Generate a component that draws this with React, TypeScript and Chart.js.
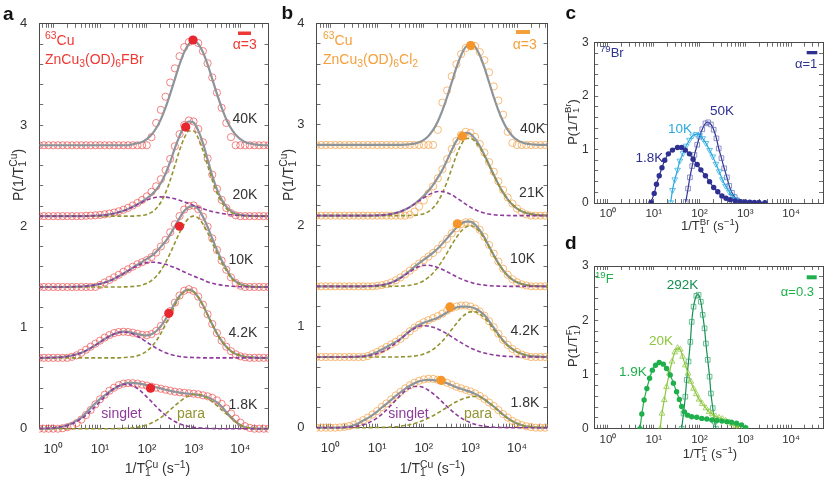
import { useEffect, useRef } from "react";
import { Chart, registerables } from "chart.js";
import type { ChartConfiguration, Plugin } from "chart.js";

Chart.register(...registerables);

const W = 831;
const H = 485;
const FONT = "'Liberation Sans', Arial, Helvetica, sans-serif";
const AXIS = "#4a4a4a";
const TEXT = "#333333";
const FIT = "#8d949a";
const PURPLE = "#8e3b9c";
const OLIVE = "#939330";
const RED = "#ee3a35";
const ORANGE = "#f5a03c";
const NAVY = "#2e3192";
const CYAN = "#29a9e0";
const GREEN = "#1fb04b";
const LIME = "#8cc63f";
const DKGREEN = "#138f52";

// x axis decades
const decadeRates = [1, 10, 100, 1000, 10000];
const decadeLabels = ["10\u2070", "10\u00b9", "10\u00b2", "10\u00b3", "10\u2074"];

// ---- panels a, b: 63Cu spectra, log10(1/T1) grid, stacked by offset ----
const cuOffsets = [0, 0.7, 1.4, 2.1, 2.8];
const fbrTemps = ["1.8K", "4.2K", "10K", "20K", "40K"];
const clTemps = ["1.8K", "4.2K", "10K", "21K", "40K"];

const cuLogRate = [
  -0.3, -0.2, -0.1, 0, 0.1, 0.2, 0.3, 0.4, 0.5, 0.6,
  0.7, 0.8, 0.9, 1, 1.1, 1.2, 1.3, 1.4, 1.5, 1.6,
  1.7, 1.8, 1.9, 2, 2.1, 2.2, 2.3, 2.4, 2.5, 2.6,
  2.7, 2.8, 2.9, 3, 3.1, 3.2, 3.3, 3.4, 3.5, 3.6,
  3.7, 3.8, 3.9, 4, 4.1, 4.2, 4.3, 4.4, 4.5, 4.6,
  4.7,
];

// ZnCu3(OD)6FBr
const fbrData18 = [
  0, 0, 0, 0, 0, .005, .015, .03, .055, .09,
  .135, .185, .24, .29, .335, .375, .405, .43, .445, .45,
  .45, .445, .435, .425, .415, .405, .395, .385, .375, .365,
  .36, .355, .35, .345, .34, .33, .32, .305, .28, .245,
  .2, .15, .1, .06, .025, .008, 0, 0, 0, 0,
  0,
];
const fbrFit18 = [
  0, 0, 0, .005, .012, .022, .037, .055, .08, .11,
  .155, .205, .25, .295, .33, .365, .395, .42, .44, .452,
  .452, .448, .44, .43, .42, .41, .398, .385, .375, .365,
  .357, .35, .345, .34, .335, .325, .31, .29, .26, .22,
  .165, .115, .07, .036, .015, .006, .002, 0, 0, 0,
  0,
];
const fbrSinglet18 = [
  .002, .003, .005, .008, .014, .022, .033, .049, .071, .099,
  .133, .174, .219, .267, .315, .359, .397, .424, .438, .438,
  .424, .397, .359, .315, .267, .219, .174, .133, .099, .071,
  .049, .033, .022, .014, .008, .005, .003, .002, 0, 0,
  0, 0, 0, 0, 0, 0, 0, 0, 0, 0,
  0,
];
const fbrPara18 = [
  0, 0, 0, 0, 0, 0, 0, 0, 0, 0,
  0, 0, 0, 0, 0, 0, 0, .001, .003, .005,
  .009, .015, .024, .037, .056, .08, .11, .146, .186, .227,
  .266, .3, .325, .338, .338, .325, .3, .266, .227, .186,
  .146, .105, .068, .036, .016, .006, .002, 0, 0, 0,
  0,
];
const fbrData42 = [
  0, 0, 0, 0, 0, 0, 0, .01, .025, .05,
  .08, .11, .14, .17, .2, .225, .245, .255, .258, .255,
  .248, .238, .228, .224, .235, .265, .315, .385, .462, .545,
  .615, .663, .678, .66, .605, .525, .43, .335, .245, .17,
  .11, .065, .035, .015, .005, 0, 0, 0, 0, 0,
  0,
];
const fbrFit42 = [
  0, 0, .002, .003, .005, .009, .014, .023, .035, .051,
  .071, .096, .125, .155, .186, .214, .236, .251, .259, .257,
  .247, .236, .225, .222, .234, .263, .312, .381, .46, .542,
  .612, .66, .675, .654, .6, .519, .425, .33, .241, .167,
  .109, .067, .039, .022, .011, .006, .003, 0, 0, 0,
  0,
];
const fbrSinglet42 = [
  0, 0, .002, .003, .005, .009, .014, .023, .035, .051,
  .071, .096, .125, .155, .186, .214, .236, .251, .256, .251,
  .236, .214, .186, .155, .125, .096, .071, .051, .035, .023,
  .014, .009, .005, .003, .002, 0, 0, 0, 0, 0,
  0, 0, 0, 0, 0, 0, 0, 0, 0, 0,
  0,
];
const fbrPara42 = [
  0, 0, 0, 0, 0, 0, 0, 0, 0, 0,
  0, 0, 0, 0, 0, 0, 0, 0, .003, .006,
  .011, .022, .039, .067, .109, .167, .241, .33, .425, .519,
  .598, .651, .67, .651, .598, .519, .425, .33, .241, .167,
  .109, .067, .039, .022, .011, .006, .003, 0, 0, 0,
  0,
];
const fbrData10 = [
  0, 0, 0, 0, 0, 0, 0, 0, 0, 0,
  0, 0, 0, .02, .045, .07, .095, .12, .15, .175,
  .2, .225, .245, .265, .295, .34, .4, .465, .54, .62,
  .7, .765, .8, .805, .77, .695, .595, .48, .365, .26,
  .17, .095, .04, .012, 0, 0, 0, 0, 0, 0,
  0,
];
const fbrFit10 = [
  0, 0, 0, 0, 0, 0, 0, .002, .003, .005,
  .008, .013, .021, .031, .044, .061, .082, .106, .133, .161,
  .191, .22, .248, .277, .308, .347, .398, .45, .52, .6,
  .68, .75, .79, .8, .77, .693, .592, .479, .366, .265,
  .181, .1, .055, .028, .012, .005, .002, 0, 0, 0,
  0,
];
const fbrSinglet10 = [
  0, 0, 0, 0, 0, 0, 0, .002, .003, .005,
  .008, .013, .021, .031, .044, .061, .082, .106, .132, .159,
  .186, .21, .229, .241, .245, .243, .235, .224, .208, .19,
  .17, .149, .127, .107, .088, .071, .05, .037, .026, .018,
  .012, .008, .005, .003, .002, .001, 0, 0, 0, 0,
  0,
];
const fbrPara10 = [
  0, 0, 0, 0, 0, 0, 0, 0, 0, 0,
  0, 0, 0, 0, 0, 0, 0, 0, .001, .002,
  .005, .01, .019, .036, .063, .104, .163, .24, .333, .435,
  .536, .622, .68, .7, .68, .622, .536, .435, .333, .24,
  .163, .09, .05, .025, .011, .005, .002, 0, 0, 0,
  0,
];
const fbrData20 = [
  0, 0, 0, 0, 0, 0, 0, 0, 0, 0,
  .003, .005, .008, .012, .018, .025, .035, .048, .063, .082,
  .105, .13, .16, .195, .24, .295, .365, .455, .565, .69,
  .81, .9, .945, .935, .86, .73, .57, .41, .27, .16,
  .08, .03, .008, 0, 0, 0, 0, 0, 0, 0,
  0,
];
const fbrFit20 = [
  0, 0, 0, 0, 0, 0, 0, 0, 0, 0,
  0, .002, .004, .006, .011, .017, .026, .038, .053, .071,
  .093, .118, .145, .176, .212, .261, .327, .418, .535, .672,
  .79, .89, .935, .925, .845, .722, .559, .399, .265, .163,
  .094, .05, .026, .013, .007, .003, .002, 0, 0, 0,
  0,
];
const fbrSinglet20 = [
  0, 0, 0, 0, 0, 0, 0, 0, 0, 0,
  0, .002, .004, .006, .011, .017, .026, .038, .053, .071,
  .093, .115, .138, .159, .175, .186, .19, .188, .181, .171,
  .157, .141, .124, .106, .089, .073, .058, .045, .035, .026,
  .019, .013, .009, .006, .004, .003, .002, 0, 0, 0,
  0,
];
const fbrPara20 = [
  0, 0, 0, 0, 0, 0, 0, 0, 0, 0,
  0, 0, 0, 0, 0, 0, 0, 0, 0, 0,
  0, .003, .007, .017, .037, .075, .137, .23, .354, .501,
  .649, .771, .841, .841, .771, .649, .501, .354, .23, .137,
  .075, .037, .017, .007, .003, 0, 0, 0, 0, 0,
  0,
];
const fbrData40 = [
  0, 0, 0, 0, 0, 0, 0, 0, 0, 0,
  0, 0, 0, 0, 0, 0, 0, 0, 0, 0,
  0, 0, 0, 0, .08, .22, .35, .48, .62, .76,
  .88, .97, 1.02, 1.04, 1.01, .93, .81, .67, .52, .37,
  .22, .08, 0, 0, 0, 0, 0, 0, 0, 0,
  0,
];
const fbrFit40 = [
  0, 0, 0, 0, 0, 0, 0, 0, 0, 0,
  0, 0, 0, 0, 0, 0, 0, 0, 0, 0,
  .01, .02, .033, .061, .104, .168, .256, .371, .507, .654,
  .798, .92, 1.001, 1.03, 1.001, .92, .798, .654, .507, .371,
  .256, .168, .104, .061, .033, .017, .009, .004, 0, 0,
  0,
];
const fbrMeanRate = [120, 295, 500, 680, 970];
const fbrMeanP = [0.4, 0.44, 0.6, 0.88, 1.04];

// ZnCu3(OD)6Cl2
const clData18 = [
  0, 0, 0, 0, 0, .003, .008, .016, .03, .05,
  .075, .1, .13, .165, .205, .24, .28, .32, .355, .39,
  .42, .445, .465, .478, .485, .483, .475, .462, .445, .425,
  .405, .39, .375, .36, .34, .315, .285, .25, .215, .175,
  .135, .1, .068, .045, .027, .014, .006, 0, 0, 0,
  0,
];
const clFit18 = [
  0, 0, 0, 0, 0, 0, .005, .012, .025, .045,
  .07, .095, .125, .16, .2, .235, .275, .315, .35, .385,
  .415, .44, .46, .47, .474, .472, .465, .455, .44, .42,
  .4, .385, .37, .355, .335, .31, .28, .245, .21, .17,
  .13, .095, .065, .042, .025, .013, .006, .002, 0, 0,
  0,
];
const clSinglet18 = [
  0, 0, 0, 0, 0, .002, .003, .006, .011, .018,
  .029, .045, .067, .097, .133, .176, .224, .273, .321, .362,
  .392, .408, .408, .396, .371, .337, .297, .253, .209, .167,
  .13, .097, .071, .05, .034, .022, .014, .009, .005, .003,
  .002, .001, 0, 0, 0, 0, 0, 0, 0, 0,
  0,
];
const clPara18 = [
  0, 0, 0, 0, 0, 0, 0, 0, 0, 0,
  0, 0, .001, .002, .003, .004, .007, .01, .015, .022,
  .03, .042, .056, .074, .095, .119, .145, .174, .202, .231,
  .257, .279, .296, .306, .31, .303, .281, .248, .209, .167,
  .127, .092, .064, .042, .026, .016, .009, .005, .002, .001,
  0,
];
const clData42 = [
  0, 0, 0, 0, 0, 0, 0, 0, 0, 0,
  0, .01, .03, .05, .075, .1, .125, .15, .18, .215,
  .255, .29, .32, .345, .365, .385, .405, .43, .46, .485,
  .5, .51, .51, .5, .48, .45, .41, .355, .295, .23,
  .17, .12, .08, .05, .025, .01, 0, 0, 0, 0,
  0,
];
const clFit42 = [
  0, 0, 0, 0, 0, 0, 0, .001, .002, .004,
  .007, .015, .03, .05, .075, .1, .125, .15, .18, .219,
  .258, .292, .32, .34, .355, .371, .39, .413, .442, .47,
  .49, .5, .5, .495, .48, .455, .415, .355, .29, .225,
  .165, .117, .08, .051, .031, .017, .009, .005, .003, .001,
  0,
];
const clSinglet42 = [
  0, 0, 0, 0, 0, 0, 0, .001, .002, .004,
  .007, .012, .02, .032, .05, .073, .102, .137, .176, .216,
  .253, .283, .303, .31, .306, .295, .278, .255, .229, .2,
  .17, .142, .115, .091, .071, .053, .039, .028, .02, .014,
  .009, .006, .004, .002, .001, 0, 0, 0, 0, 0,
  0,
];
const clPara42 = [
  0, 0, 0, 0, 0, 0, 0, 0, 0, 0,
  0, 0, 0, 0, 0, 0, 0, 0, .001, .003,
  .005, .009, .017, .03, .049, .076, .112, .158, .213, .273,
  .333, .386, .426, .447, .447, .426, .386, .333, .273, .213,
  .158, .112, .076, .049, .03, .017, .009, .005, .003, .001,
  0,
];
const clData10 = [
  0, 0, 0, 0, 0, 0, 0, 0, 0, 0,
  0, 0, 0, .005, .012, .022, .038, .06, .088, .12,
  .155, .19, .225, .26, .295, .33, .37, .415, .47, .525,
  .575, .615, .635, .635, .61, .56, .49, .41, .325, .245,
  .175, .115, .07, .04, .02, .008, 0, 0, 0, 0,
  0,
];
const clFit10 = [
  0, 0, 0, 0, 0, 0, 0, 0, 0, 0,
  0, .002, .003, .007, .013, .022, .036, .057, .085, .118,
  .154, .193, .23, .264, .298, .333, .375, .423, .476, .531,
  .581, .62, .641, .64, .611, .556, .482, .396, .309, .229,
  .161, .106, .067, .04, .023, .012, .006, .003, .001, 0,
  0,
];
const clSinglet10 = [
  0, 0, 0, 0, 0, 0, 0, 0, 0, 0,
  0, .002, .003, .007, .013, .022, .036, .056, .082, .112,
  .143, .173, .196, .208, .209, .201, .187, .167, .144, .12,
  .096, .074, .055, .04, .027, .018, .012, .007, .004, .002,
  .001, 0, 0, 0, 0, 0, 0, 0, 0, 0,
  0,
];
const clPara10 = [
  0, 0, 0, 0, 0, 0, 0, 0, 0, 0,
  0, 0, 0, 0, 0, 0, 0, .001, .003, .006,
  .011, .02, .034, .056, .089, .132, .188, .256, .332, .411,
  .485, .546, .586, .6, .584, .538, .47, .389, .305, .227,
  .16, .106, .067, .04, .023, .012, .006, .003, .001, 0,
  0,
];
const clData21 = [
  0, 0, 0, 0, 0, 0, 0, 0, 0, 0,
  0, 0, 0, 0, 0, 0, 0, 0, 0, 0,
  .01, .04, .09, .15, .22, .29, .37, .46, .56, .66,
  .74, .8, .83, .82, .78, .71, .625, .53, .435, .34,
  .255, .18, .12, .07, .035, .012, 0, 0, 0, 0,
  0,
];
const clFit21 = [
  0, 0, 0, 0, 0, 0, 0, 0, 0, 0,
  0, 0, .001, .003, .005, .009, .016, .026, .04, .06,
  .085, .117, .155, .196, .246, .305, .376, .455, .55, .65,
  .74, .8, .82, .81, .76, .69, .6, .505, .405, .312,
  .23, .162, .109, .07, .044, .026, .015, .008, .004, .002,
  0,
];
const clSinglet21 = [
  0, 0, 0, 0, 0, 0, 0, 0, 0, 0,
  0, 0, .001, .003, .005, .009, .016, .026, .04, .06,
  .084, .114, .146, .177, .206, .227, .239, .239, .227, .206,
  .177, .146, .114, .084, .06, .04, .026, .016, .009, .005,
  .003, .001, 0, 0, 0, 0, 0, 0, 0, 0,
  0,
];
const clPara21 = [
  0, 0, 0, 0, 0, 0, 0, 0, 0, 0,
  0, 0, 0, 0, 0, 0, 0, 0, 0, 0,
  .001, .003, .009, .019, .04, .078, .137, .224, .337, .467,
  .597, .702, .762, .766, .733, .672, .59, .496, .399, .308,
  .227, .161, .109, .07, .044, .026, .015, .008, .004, .002,
  0,
];
const clData40 = [
  0, 0, 0, 0, 0, 0, 0, 0, 0, 0,
  0, 0, 0, 0, 0, 0, 0, 0, 0, 0,
  0, 0, 0, 0, 0, 0, .15, .42, .54, .68,
  .8, .9, .96, .99, .98, .92, .84, .72, .58, .44,
  .3, .13, .02, 0, 0, 0, 0, 0, 0, 0,
  0,
];
const clFit40 = [
  0, 0, 0, 0, 0, 0, 0, 0, 0, 0,
  0, 0, 0, 0, 0, 0, 0, 0, 0, .003,
  .007, .014, .027, .051, .09, .149, .233, .343, .475, .621,
  .765, .888, .971, 1, .971, .888, .765, .621, .475, .343,
  .233, .149, .09, .051, .027, .014, .007, .003, 0, 0,
  0,
];
const clMeanRate = [234, 363, 525, 676, 1020];
const clMeanP = [0.469, 0.496, 0.62, 0.786, 0.984];

// ---- panel c: 79Br ----
const brTemps = ["1.8K", "10K", "50K"];
const brLog18 = [0.94, 1.01, 1.06, 1.12, 1.18, 1.24, 1.32, 1.41, 1.52, 1.61, 1.69, 1.78, 1.86, 1.95, 2.03, 2.13, 2.22, 2.31, 2.4, 2.49, 2.58, 2.67, 2.78, 2.89, 3.0, 3.1, 3.2, 3.3, 3.43];
const brP18 = [0.01, 0.18, 0.35, 0.51, 0.66, 0.8, 0.92, 0.99, 1.04, 1.04, 0.99, 0.92, 0.82, 0.72, 0.62, 0.51, 0.4, 0.29, 0.21, 0.13, 0.09, 0.06, 0.04, 0.025, 0.02, 0.015, 0.01, 0.008, 0.005];
const brLog10 = [1.37, 1.41, 1.46, 1.52, 1.57, 1.64, 1.71, 1.78, 1.85, 1.93, 2.0, 2.07, 2.14, 2.22, 2.29, 2.36, 2.43, 2.5, 2.57, 2.65, 2.72, 2.79, 2.86, 2.94];
const brP10 = [0.01, 0.24, 0.44, 0.62, 0.79, 0.93, 1.07, 1.18, 1.26, 1.29, 1.27, 1.21, 1.12, 0.99, 0.87, 0.73, 0.59, 0.44, 0.32, 0.21, 0.13, 0.07, 0.03, 0.005];
const brLog50 = [1.7, 1.75, 1.79, 1.84, 1.89, 1.95, 2.0, 2.06, 2.13, 2.19, 2.25, 2.31, 2.37, 2.42, 2.48, 2.54, 2.6, 2.65, 2.71, 2.77, 2.83, 2.89];
const brP50 = [0.02, 0.27, 0.48, 0.69, 0.9, 1.09, 1.24, 1.38, 1.49, 1.51, 1.47, 1.37, 1.21, 1.02, 0.84, 0.65, 0.48, 0.32, 0.19, 0.11, 0.04, 0.02];

// ---- panel d: 19F ----
const fTemps = ["1.9K", "20K", "292K"];
const fLog19 = [0.7, 0.74, 0.79, 0.85, 0.91, 0.97, 1.04, 1.12, 1.21, 1.28, 1.36, 1.43, 1.5, 1.56, 1.61, 1.67, 1.74, 1.83, 1.94, 2.05, 2.16, 2.27, 2.38, 2.49, 2.6, 2.7, 2.81, 2.92, 3.01];
const fP19 = [0, 0.27, 0.53, 0.74, 0.93, 1.08, 1.17, 1.22, 1.19, 1.11, 0.99, 0.84, 0.68, 0.54, 0.41, 0.31, 0.25, 0.22, 0.21, 0.19, 0.18, 0.16, 0.15, 0.14, 0.13, 0.12, 0.1, 0.07, 0.02];
const fLog20 = [1.14, 1.18, 1.23, 1.28, 1.34, 1.4, 1.46, 1.52, 1.58, 1.63, 1.69, 1.75, 1.81, 1.87, 1.93, 1.99, 2.06, 2.14, 2.21, 2.28, 2.35, 2.43, 2.5, 2.57, 2.65, 2.72, 2.79, 2.86];
const fP20 = [0, 0.28, 0.53, 0.77, 1.02, 1.24, 1.41, 1.49, 1.46, 1.33, 1.17, 1.02, 0.87, 0.74, 0.64, 0.54, 0.46, 0.38, 0.31, 0.27, 0.23, 0.2, 0.18, 0.15, 0.12, 0.09, 0.05, 0.02];
const fLog292 = [1.61, 1.65, 1.69, 1.72, 1.76, 1.8, 1.83, 1.87, 1.93, 1.98, 2.03, 2.07, 2.11, 2.14, 2.18, 2.22, 2.25, 2.29, 2.33, 2.36];
const fP292 = [0, 0.28, 0.59, 0.9, 1.24, 1.6, 1.97, 2.25, 2.45, 2.47, 2.34, 2.1, 1.85, 1.57, 1.27, 0.96, 0.65, 0.38, 0.13, 0];

// ---------------------------------------------------------------------------

type Seg = { t: string; s?: "sup" | "sub"; over?: string };
type TextItem = {
  x: number; y: number; segs: Seg[]; color: string; size: number;
  align?: "left" | "center" | "right"; bold?: boolean; vertical?: boolean;
};
type Bar = { x: number; y: number; w: number; h: number; color: string };
type Area = { left: number; top: number; right: number; bottom: number };
type AxisLook = { tickSize: number; yTickSize: number; xPad: number; yPad: number };

const Y_AXIS_W = 24;
const X_AXIS_H = 30;

function drawText(ctx: CanvasRenderingContext2D, it: TextItem) {
  const small = it.size * 0.74;
  const fontOf = (sz: number) => `${it.bold ? "bold " : ""}${sz}px ${FONT}`;
  const widths = it.segs.map((sg) => {
    ctx.font = fontOf(sg.s ? small : it.size);
    const w = ctx.measureText(sg.t).width;
    return sg.over ? Math.max(w, ctx.measureText(sg.over).width) : w;
  });
  const total = widths.reduce((a, b) => a + b, 0);
  ctx.save();
  ctx.translate(it.x, it.y);
  if (it.vertical) ctx.rotate(-Math.PI / 2);
  ctx.fillStyle = it.color;
  ctx.textBaseline = "alphabetic";
  ctx.textAlign = "left";
  let x = it.align === "center" ? -total / 2 : it.align === "right" ? -total : 0;
  it.segs.forEach((sg, i) => {
    ctx.font = fontOf(sg.s ? small : it.size);
    const dy = sg.s === "sup" ? -it.size * 0.4 : sg.s === "sub" ? it.size * 0.22 : 0;
    ctx.fillText(sg.t, x, dy);
    if (sg.over) ctx.fillText(sg.over, x, -it.size * 0.4);
    x += widths[i];
  });
  ctx.restore();
}

function textLayer(items: TextItem[], bars: Bar[]): Plugin<"scatter"> {
  return {
    id: "textLayer",
    afterDraw(chart) {
      const ctx = chart.ctx;
      ctx.save();
      for (const b of bars) {
        ctx.fillStyle = b.color;
        ctx.fillRect(b.x, b.y, b.w, b.h);
      }
      for (const it of items) drawText(ctx, it);
      ctx.restore();
    },
  };
}

function logTicks(min: number, max: number) {
  const out: number[] = [];
  for (let e = -1; e <= 4; e++) {
    for (let m = 1; m <= 9; m++) {
      const v = m * Math.pow(10, e);
      if (v >= min * 0.999 && v <= max * 1.001) out.push(v);
    }
  }
  return out;
}

function decadeLabel(v: number) {
  const i = decadeRates.findIndex((d) => Math.abs(v - d) < d * 1e-6);
  return i < 0 ? "" : decadeLabels[i];
}

function intLabel(v: number) {
  return Math.abs(v - Math.round(v)) < 1e-6 ? String(Math.round(v)) : "";
}

function scalesFor(xMin: number, xMax: number, yMax: number, look: AxisLook) {
  const tickVals = logTicks(xMin, xMax);
  const border = { display: true, color: AXIS, width: 1 };
  const grid = { drawOnChartArea: false, drawTicks: true, tickLength: -4, color: AXIS, lineWidth: 0.8 };
  const setTicks = (s: any) => {
    s.ticks = tickVals.map((value) => ({ value }));
  };
  return {
    x: {
      type: "logarithmic", position: "bottom", min: xMin, max: xMax, grid, border,
      afterBuildTicks: setTicks,
      afterFit: (s: any) => { s.height = X_AXIS_H; },
      ticks: {
        autoSkip: false, maxRotation: 0, minRotation: 0, padding: look.xPad, color: TEXT,
        font: { family: FONT, size: look.tickSize },
        callback: (v: any) => decadeLabel(Number(v)),
      },
    },
    x2: {
      type: "logarithmic", position: "top", min: xMin, max: xMax, grid, border,
      afterBuildTicks: setTicks,
      afterFit: (s: any) => { s.height = 0; },
      ticks: { display: false, autoSkip: false },
    },
    y: {
      type: "linear", position: "left", min: 0, max: yMax, grid, border,
      afterFit: (s: any) => { s.width = Y_AXIS_W; },
      ticks: {
        stepSize: 0.2, autoSkip: false, padding: look.yPad, color: TEXT,
        font: { family: FONT, size: look.yTickSize },
        callback: (v: any) => intLabel(Number(v)),
      },
    },
    y2: {
      type: "linear", position: "right", min: 0, max: yMax, grid, border,
      afterFit: (s: any) => { s.width = 0; },
      ticks: { display: false, stepSize: 0.2, autoSkip: false },
    },
  };
}

function makeConfig(
  area: Area, xMin: number, xMax: number, yMax: number, look: AxisLook,
  datasets: any[], items: TextItem[], bars: Bar[],
): ChartConfiguration<"scatter"> {
  return {
    type: "scatter",
    data: { datasets },
    options: {
      responsive: false,
      animation: false,
      events: [],
      layout: {
        padding: {
          left: area.left - Y_AXIS_W,
          top: area.top,
          right: W - area.right,
          bottom: H - area.bottom - X_AXIS_H,
        },
      },
      plugins: { legend: { display: false }, tooltip: { enabled: false } },
      scales: scalesFor(xMin, xMax, yMax, look) as any,
    },
    plugins: [textLayer(items, bars)],
  };
}

const logPoints = (logs: number[], vals: number[], shift = 0) =>
  logs.map((lx, i) => ({ x: Math.pow(10, lx), y: vals[i] + shift }));

type CuPanel = {
  data: number[][]; fit: number[][]; singlet: number[][]; para: number[][];
  meanRate: number[]; meanP: number[]; ring: string; dot: string;
};

function dashed(vals: number[], off: number, color: string) {
  return {
    data: logPoints(cuLogRate, vals, off), showLine: true, pointRadius: 0,
    borderColor: color, borderWidth: 1.6, borderDash: [4, 2.5],
    cubicInterpolationMode: "monotone", order: 1,
    clip: { left: 0, right: 0, top: 4, bottom: 4 },
  };
}

function cuDatasets(c: CuPanel) {
  const sets: any[] = [];
  cuOffsets.forEach((off, k) => {
    sets.push({
      data: logPoints(cuLogRate, c.data[k], off), showLine: false, pointStyle: "circle",
      pointRadius: 3.6, pointBorderWidth: 0.9, pointBorderColor: c.ring,
      pointBackgroundColor: "rgba(255,255,255,0)", order: 4,
      clip: { left: 0, right: 0, top: 8, bottom: 8 },
    });
    sets.push({
      data: logPoints(cuLogRate, c.fit[k], off), showLine: true, pointRadius: 0,
      borderColor: FIT, borderWidth: 2.2, cubicInterpolationMode: "monotone", order: 3,
      clip: { left: 0, right: 0, top: 4, bottom: 4 },
    });
    if (c.singlet[k]) {
      sets.push(dashed(c.singlet[k], off, PURPLE));
      sets.push(dashed(c.para[k], off, OLIVE));
    }
  });
  sets.push({
    data: c.meanRate.map((r, k) => ({ x: r, y: c.meanP[k] + cuOffsets[k] })),
    showLine: false, pointStyle: "circle", pointRadius: 4.6,
    pointBackgroundColor: c.dot, pointBorderColor: c.dot, pointBorderWidth: 0, order: 0,
  });
  return sets;
}

const cuRateTitle: Seg[] = [{ t: "1/T" }, { t: "1", s: "sub", over: "Cu" }, { t: " (s" }, { t: "\u22121", s: "sup" }, { t: ")" }];
const cuPTitle: Seg[] = [{ t: "P(1/T" }, { t: "1", s: "sub", over: "Cu" }, { t: ")" }];

const cuLook: AxisLook = { tickSize: 13, yTickSize: 13, xPad: 16.5, yPad: 16 };
const smallLook: AxisLook = { tickSize: 11.5, yTickSize: 12, xPad: 8, yPad: 9.5 };

function panelA() {
  const tempPos = [[257.3, 409], [257.3, 336.7], [253.3, 264], [257.3, 199], [257.3, 122.7]];
  const items: TextItem[] = [
    { x: 3, y: 19.5, segs: [{ t: "a" }], color: "#111", size: 19, bold: true },
    { x: 45, y: 45, segs: [{ t: "63", s: "sup" }, { t: "Cu" }], color: RED, size: 14 },
    { x: 45, y: 63.5, segs: [{ t: "ZnCu" }, { t: "3", s: "sub" }, { t: "(OD)" }, { t: "6", s: "sub" }, { t: "FBr" }], color: RED, size: 14 },
    { x: 256.7, y: 49, segs: [{ t: "\u03b1=3" }], color: RED, size: 14, align: "right" },
    ...fbrTemps.map((t, k) => ({ x: tempPos[k][0], y: tempPos[k][1], segs: [{ t }], color: TEXT, size: 14, align: "right" as const })),
    { x: 121.5, y: 418, segs: [{ t: "singlet" }], color: PURPLE, size: 14, align: "center" },
    { x: 191, y: 418, segs: [{ t: "para" }], color: OLIVE, size: 14, align: "center" },
    { x: 157.5, y: 473.3, segs: cuRateTitle, color: TEXT, size: 14, align: "center" },
    { x: 22.5, y: 175, segs: cuPTitle, color: TEXT, size: 14, align: "center", vertical: true },
  ];
  const datasets = cuDatasets({
    data: [fbrData18, fbrData42, fbrData10, fbrData20, fbrData40],
    fit: [fbrFit18, fbrFit42, fbrFit10, fbrFit20, fbrFit40],
    singlet: [fbrSinglet18, fbrSinglet42, fbrSinglet10, fbrSinglet20],
    para: [fbrPara18, fbrPara42, fbrPara10, fbrPara20],
    meanRate: fbrMeanRate, meanP: fbrMeanP,
    ring: "rgba(240,82,82,0.8)", dot: "#e8262d",
  });
  return makeConfig({ left: 39.2, top: 22.7, right: 268.5, bottom: 428.7 }, 0.5, 40000, 4, cuLook,
    datasets, items, [{ x: 238, y: 31.5, w: 13, h: 3.5, color: RED }]);
}

function panelB() {
  const tempPos = [[539.3, 407.3], [539.3, 335], [535, 262.7], [544, 196.7], [545, 132.7]];
  const items: TextItem[] = [
    { x: 281.5, y: 18.5, segs: [{ t: "b" }], color: "#111", size: 19, bold: true },
    { x: 323, y: 45, segs: [{ t: "63", s: "sup" }, { t: "Cu" }], color: ORANGE, size: 14 },
    { x: 323, y: 63.5, segs: [{ t: "ZnCu" }, { t: "3", s: "sub" }, { t: "(OD)" }, { t: "6", s: "sub" }, { t: "Cl" }, { t: "2", s: "sub" }], color: ORANGE, size: 14 },
    { x: 536.7, y: 49.3, segs: [{ t: "\u03b1=3" }], color: ORANGE, size: 14, align: "right" },
    ...clTemps.map((t, k) => ({ x: tempPos[k][0], y: tempPos[k][1], segs: [{ t }], color: TEXT, size: 14, align: "right" as const })),
    { x: 408.5, y: 418, segs: [{ t: "singlet" }], color: PURPLE, size: 14, align: "center" },
    { x: 478, y: 418, segs: [{ t: "para" }], color: OLIVE, size: 14, align: "center" },
    { x: 432.5, y: 473.3, segs: cuRateTitle, color: TEXT, size: 14, align: "center" },
    { x: 292.5, y: 175, segs: cuPTitle, color: TEXT, size: 14, align: "center", vertical: true },
  ];
  const datasets = cuDatasets({
    data: [clData18, clData42, clData10, clData21, clData40],
    fit: [clFit18, clFit42, clFit10, clFit21, clFit40],
    singlet: [clSinglet18, clSinglet42, clSinglet10, clSinglet21],
    para: [clPara18, clPara42, clPara10, clPara21],
    meanRate: clMeanRate, meanP: clMeanP,
    ring: "rgba(246,166,78,0.85)", dot: "#f5962a",
  });
  return makeConfig({ left: 316.5, top: 20.7, right: 547.5, bottom: 427.7 }, 0.5, 45000, 4, cuLook,
    datasets, items, [{ x: 516, y: 30, w: 14, h: 4, color: ORANGE }]);
}

function markerSet(logs: number[], vals: number[], color: string, ring: string, style: string, filled: boolean, order: number, rotation = 0) {
  return {
    data: logPoints(logs, vals), showLine: true, borderColor: color, borderWidth: 1.2, tension: 0.3,
    pointStyle: style, pointRotation: rotation, pointRadius: filled ? 2.7 : 3.3,
    pointBackgroundColor: filled ? color : "rgba(255,255,255,0)",
    pointBorderColor: filled ? color : ring, pointBorderWidth: filled ? 0 : 0.9, order,
  };
}

function panelC() {
  const items: TextItem[] = [
    { x: 565.5, y: 18.5, segs: [{ t: "c" }], color: "#111", size: 19, bold: true },
    { x: 600, y: 57.3, segs: [{ t: "79", s: "sup" }, { t: "Br" }], color: NAVY, size: 13 },
    { x: 817.3, y: 68.3, segs: [{ t: "\u03b1=1" }], color: NAVY, size: 13, align: "right" },
    { x: 663.3, y: 162.3, segs: [{ t: brTemps[0] }], color: NAVY, size: 13.5, align: "right" },
    { x: 680, y: 133.3, segs: [{ t: brTemps[1] }], color: CYAN, size: 13.5, align: "center" },
    { x: 722, y: 115, segs: [{ t: brTemps[2] }], color: NAVY, size: 13.5, align: "center" },
    { x: 710, y: 230, segs: [{ t: "1/T" }, { t: "1", s: "sub", over: "Br" }, { t: " (s" }, { t: "\u22121", s: "sup" }, { t: ")" }], color: TEXT, size: 13, align: "center" },
    { x: 576.5, y: 122, segs: [{ t: "P(1/T" }, { t: "1", s: "sub", over: "Br" }, { t: ")" }], color: TEXT, size: 13, align: "center", vertical: true },
  ];
  const datasets = [
    markerSet(brLog18, brP18, NAVY, NAVY, "circle", true, 0),
    markerSet(brLog10, brP10, CYAN, "rgba(41,169,224,0.8)", "triangle", false, 1, 180),
    markerSet(brLog50, brP50, NAVY, "rgba(90,94,175,0.75)", "rect", false, 2),
  ];
  return makeConfig({ left: 594.2, top: 42.7, right: 827.5, bottom: 203 }, 0.5, 50000, 3, smallLook,
    datasets, items, [{ x: 806.7, y: 51, w: 10.6, h: 3.3, color: NAVY }]);
}

function panelD() {
  const items: TextItem[] = [
    { x: 565, y: 249, segs: [{ t: "d" }], color: "#111", size: 19, bold: true },
    { x: 595, y: 283.3, segs: [{ t: "19", s: "sup" }, { t: "F" }], color: GREEN, size: 13 },
    { x: 814, y: 296, segs: [{ t: "\u03b1=0.3" }], color: GREEN, size: 13, align: "right" },
    { x: 646.7, y: 376, segs: [{ t: fTemps[0] }], color: GREEN, size: 13.5, align: "right" },
    { x: 661, y: 345, segs: [{ t: fTemps[1] }], color: LIME, size: 13.5, align: "center" },
    { x: 682.5, y: 288.5, segs: [{ t: fTemps[2] }], color: DKGREEN, size: 13.5, align: "center" },
    { x: 710, y: 458, segs: [{ t: "1/T" }, { t: "1", s: "sub", over: "F" }, { t: " (s" }, { t: "\u22121", s: "sup" }, { t: ")" }], color: TEXT, size: 13, align: "center" },
    { x: 577, y: 346, segs: [{ t: "P(1/T" }, { t: "1", s: "sub", over: "F" }, { t: ")" }], color: TEXT, size: 13, align: "center", vertical: true },
  ];
  const datasets = [
    markerSet(fLog19, fP19, GREEN, GREEN, "circle", true, 0),
    markerSet(fLog20, fP20, LIME, "rgba(140,198,63,0.85)", "triangle", false, 1),
    markerSet(fLog292, fP292, DKGREEN, "rgba(40,160,100,0.75)", "rect", false, 2),
  ];
  return makeConfig({ left: 594.2, top: 266, right: 827.5, bottom: 428.7 }, 0.5, 50000, 3, smallLook,
    datasets, items, [{ x: 806.7, y: 275.3, w: 10, h: 4, color: GREEN }]);
}

function PanelChart({ build }: { build: () => ChartConfiguration<"scatter"> }) {
  const canvasRef = useRef<HTMLCanvasElement>(null);

  useEffect(() => {
    const chart = new Chart(canvasRef.current!, build());
    return () => chart.destroy();
  }, [build]);

  return (
    <canvas
      ref={canvasRef}
      width={W}
      height={H}
      style={{ position: "absolute", left: 0, top: 0, width: W, height: H }}
    ></canvas>
  );
}

export default function App() {
  return (
    <div style={{ position: "absolute", left: 0, top: 0, width: W, height: H, background: "#fff" }}>
      <PanelChart build={panelA} />
      <PanelChart build={panelB} />
      <PanelChart build={panelC} />
      <PanelChart build={panelD} />
    </div>
  );
}
